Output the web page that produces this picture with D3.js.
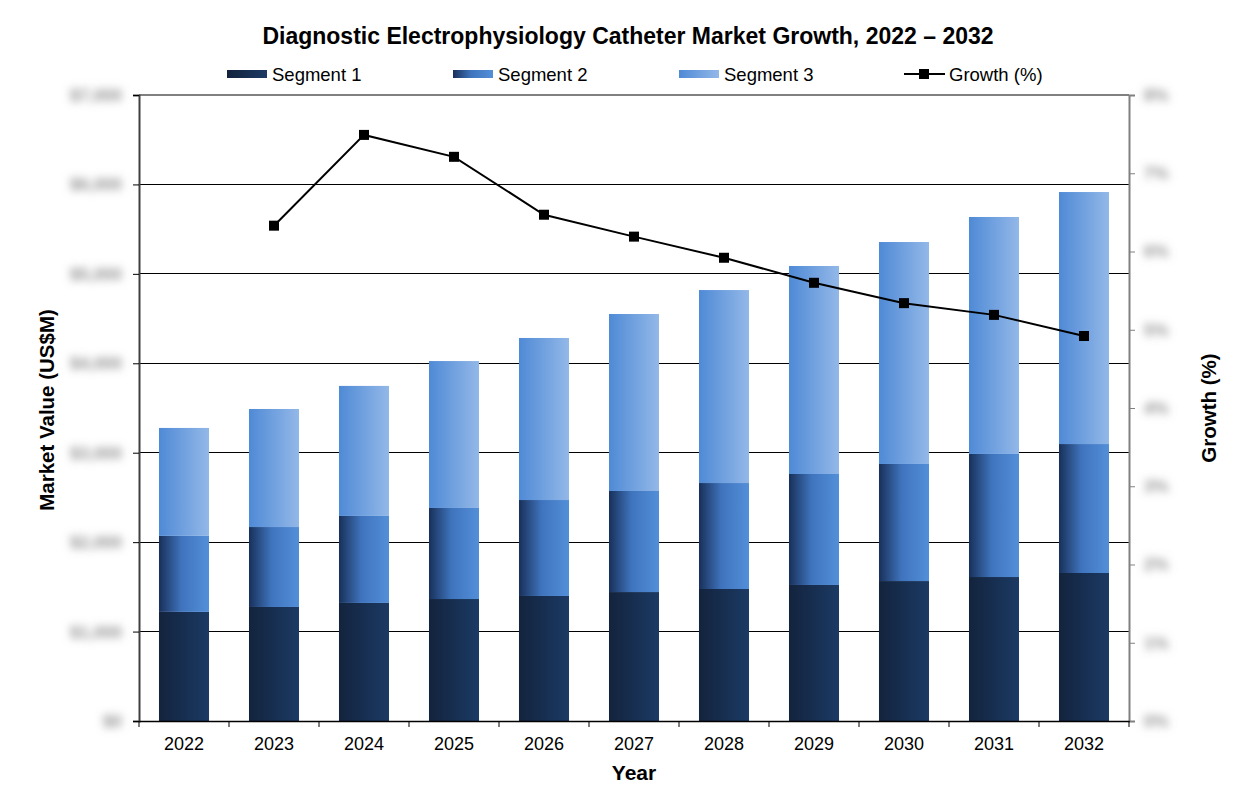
<!DOCTYPE html>
<html>
<head>
<meta charset="utf-8">
<script src="https://cdn.jsdelivr.net/npm/d3@7"></script>
<style>
  body { margin: 0; background: #fff; }
  text { font-family: "Liberation Sans", Arial, sans-serif; }
</style>
</head>
<body>
<div id="chart"></div>
<script>
const width = 1256
const height = 810

// data
const years = ['2022','2023','2024','2025','2026','2027','2028','2029','2030','2031','2032']
const segment1 = [1220, 1275, 1320, 1364, 1398, 1442, 1476, 1521, 1565, 1610, 1655]
const segment2 = [850, 894, 973, 1018, 1073, 1130, 1185, 1241, 1309, 1376, 1442]
const segment3 = [1207, 1320, 1454, 1643, 1812, 1979, 2158, 2326, 2482, 2650, 2818]
const growth = [null, 6.33, 7.49, 7.21, 6.47, 6.19, 5.92, 5.60, 5.34, 5.19, 4.92]
const valueTicks = [0, 1000, 2000, 3000, 4000, 5000, 6000, 7000]
const growthTicks = [0, 1, 2, 3, 4, 5, 6, 7, 8]
const seriesNames = ['Segment 1', 'Segment 2', 'Segment 3']

const margin = {top: 95, right: 127, bottom: 89, left: 139}

let svg = d3.select('#chart').append('svg')
    .attr('width', width)
    .attr('height', height)

// gradients for the bar segments
let defs = svg.append('defs')
let gradStops = [
    [['0%', '#13233d'], ['100%', '#1b3a64']],
    [['0%', '#18305a'], ['45%', '#3f74bd'], ['100%', '#538fd9']],
    [['0%', '#4f8ad6'], ['100%', '#93b8e8']]
]
gradStops.forEach((stops, i) => {
    let g = defs.append('linearGradient').attr('id', 'seg' + i)
        .attr('x1', '0%').attr('x2', '100%').attr('y1', '0%').attr('y2', '0%')
    stops.forEach(s => g.append('stop').attr('offset', s[0]).attr('stop-color', s[1]))
})
defs.append('filter').attr('id', 'blur')
    .attr('x', '-50%').attr('y', '-100%').attr('width', '200%').attr('height', '300%')
    .append('feGaussianBlur').attr('stdDeviation', 4)

let x = d3.scaleBand().domain(years)
    .range([margin.left, width - margin.right])
    .paddingInner(0.444).paddingOuter(0.222)
let y = d3.scaleLinear().domain([0, 7000]).range([height - margin.bottom, margin.top])
let y2 = d3.scaleLinear().domain([0, 8]).range([height - margin.bottom, margin.top])

let plotL = margin.left, plotR = width - margin.right
let plotB = height - margin.bottom, plotT = margin.top

// gridlines
svg.append('g')
    .selectAll('line')
    .data(valueTicks.filter(d => d > 0 && d < 7000))
    .join('line')
    .attr('x1', plotL).attr('x2', plotR)
    .attr('y1', d => y(d)).attr('y2', d => y(d))
    .attr('stroke', '#000').attr('stroke-width', 1)
    .attr('shape-rendering', 'crispEdges')

// top border
svg.append('line')
    .attr('x1', plotL).attr('x2', plotR).attr('y1', plotT).attr('y2', plotT)
    .attr('stroke', '#808080').attr('stroke-width', 2)

// stacked bars
let stackData = years.map((yr, i) => ({year: yr, s0: segment1[i], s1: segment2[i], s2: segment3[i]}))
let stacked = d3.stack().keys(['s0', 's1', 's2'])(stackData)

svg.append('g')
    .selectAll('g')
    .data(stacked)
    .join('g')
    .attr('fill', (d, i) => `url(#seg${i})`)
    .selectAll('rect')
    .data(d => d)
    .join('rect')
    .attr('x', d => x(d.data.year))
    .attr('width', x.bandwidth())
    .attr('y', d => y(d[1]))
    .attr('height', d => y(d[0]) - y(d[1]))

// left axis
let leftAxis = svg.append('g')
    .attr('transform', `translate(${plotL},0)`)
    .call(d3.axisLeft(y).tickValues(valueTicks).tickSize(6).tickFormat(d => '$' + d3.format(',')(d)))
leftAxis.select('.domain').attr('stroke', '#404040').attr('stroke-width', 2)
leftAxis.selectAll('.tick line').attr('stroke', '#000')
leftAxis.selectAll('.tick text')
    .attr('x', -17)
    .attr('fill', '#909090')
    .attr('font-size', 17)
    .attr('font-weight', 'bold')
    .attr('filter', 'url(#blur)')

// right axis
let rightAxis = svg.append('g')
    .attr('transform', `translate(${plotR},0)`)
    .call(d3.axisRight(y2).tickValues(growthTicks).tickSize(6).tickFormat(d => d + '%'))
rightAxis.select('.domain').attr('stroke', '#808080').attr('stroke-width', 2)
rightAxis.selectAll('.tick line').attr('stroke', '#808080')
rightAxis.selectAll('.tick text')
    .attr('x', 15)
    .attr('fill', '#909090')
    .attr('font-size', 17)
    .attr('font-weight', 'bold')
    .attr('filter', 'url(#blur)')

// bottom axis
let bottomAxis = svg.append('g')
    .attr('transform', `translate(0,${plotB})`)
    .call(d3.axisBottom(x).tickSize(0).tickPadding(16))
bottomAxis.select('.domain').attr('stroke', '#000').attr('stroke-width', 1.5)
bottomAxis.selectAll('.tick text').attr('font-size', 18).attr('fill', '#000')
bottomAxis.selectAll('line.sep')
    .data(d3.range(years.length + 1))
    .join('line')
    .attr('class', 'sep')
    .attr('x1', i => plotL + i * x.step()).attr('x2', i => plotL + i * x.step())
    .attr('y1', 0).attr('y2', 6)
    .attr('stroke', '#000')

// growth line
let growthPts = years.map((yr, i) => ({year: yr, g: growth[i]})).filter(d => d.g !== null)
let line = d3.line()
    .x(d => x(d.year) + x.bandwidth() / 2)
    .y(d => y2(d.g))
svg.append('path')
    .datum(growthPts)
    .attr('d', line)
    .attr('fill', 'none')
    .attr('stroke', '#000')
    .attr('stroke-width', 2)
svg.append('g')
    .selectAll('rect')
    .data(growthPts)
    .join('rect')
    .attr('x', d => x(d.year) + x.bandwidth() / 2 - 5)
    .attr('y', d => y2(d.g) - 5)
    .attr('width', 10).attr('height', 10)
    .attr('fill', '#000')

// title
svg.append('text')
    .attr('x', 628).attr('y', 44)
    .attr('text-anchor', 'middle')
    .attr('font-size', 23).attr('font-weight', 'bold')
    .text('Diagnostic Electrophysiology Catheter Market Growth, 2022 \u2013 2032')

// axis titles
svg.append('text')
    .attr('x', 634).attr('y', 780)
    .attr('text-anchor', 'middle')
    .attr('font-size', 21).attr('font-weight', 'bold')
    .text('Year')
svg.append('text')
    .attr('transform', 'translate(54,410) rotate(-90)')
    .attr('text-anchor', 'middle')
    .attr('font-size', 20.5).attr('font-weight', 'bold')
    .text('Market Value (US$M)')
svg.append('text')
    .attr('transform', 'translate(1216,408) rotate(-90)')
    .attr('text-anchor', 'middle')
    .attr('font-size', 20.5).attr('font-weight', 'bold')
    .text('Growth (%)')

// legend
let legendX = [227, 453, 679]
seriesNames.forEach((name, i) => {
    svg.append('rect')
        .attr('x', legendX[i]).attr('y', 70)
        .attr('width', 40).attr('height', 8)
        .attr('fill', `url(#seg${i})`)
    svg.append('text')
        .attr('x', legendX[i] + 45).attr('y', 81)
        .attr('font-size', 18.5)
        .text(name)
})
svg.append('line')
    .attr('x1', 904).attr('x2', 945).attr('y1', 74).attr('y2', 74)
    .attr('stroke', '#000').attr('stroke-width', 2)
svg.append('rect')
    .attr('x', 919).attr('y', 69).attr('width', 10).attr('height', 10)
    .attr('fill', '#000')
svg.append('text')
    .attr('x', 949).attr('y', 81)
    .attr('font-size', 18.5)
    .text('Growth (%)')
</script>
</body>
</html>
